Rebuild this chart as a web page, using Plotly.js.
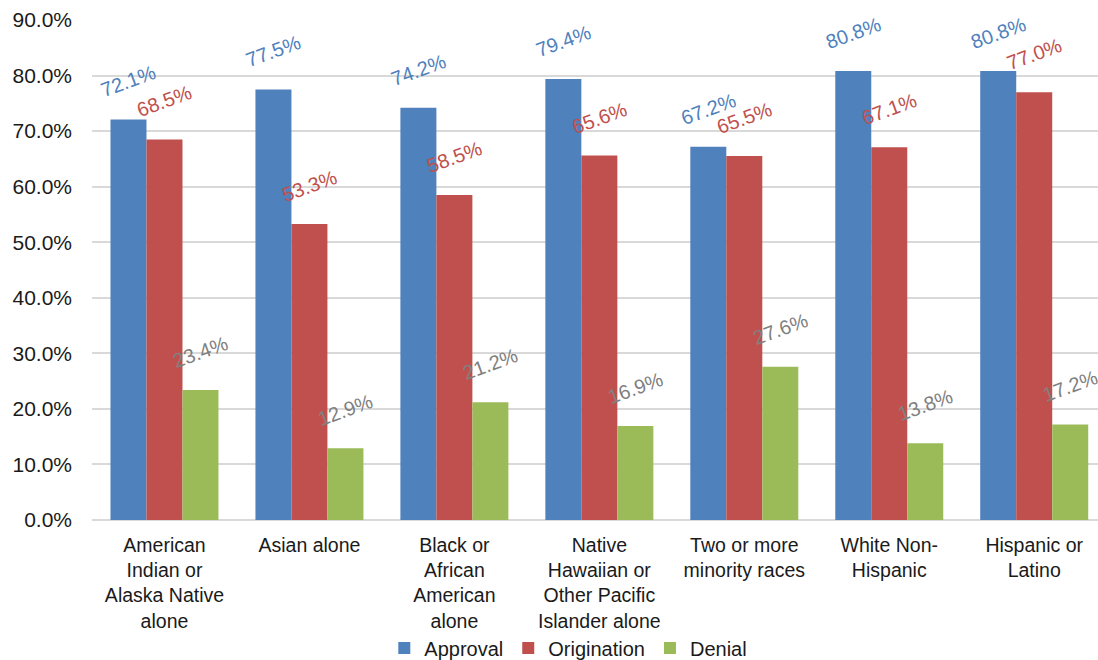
<!DOCTYPE html>
<html>
<head>
<meta charset="utf-8">
<script src="https://cdn.plot.ly/plotly-3.0.1.min.js"></script>
<style>html,body{margin:0;padding:0;background:#fff;}#chart{width:1098px;height:660px;}</style>
</head>
<body>
<div id="chart"></div>
<script>
const categories = [
  "American<br>Indian or<br>Alaska Native<br>alone",
  "Asian alone",
  "Black or<br>African<br>American<br>alone",
  "Native<br>Hawaiian or<br>Other Pacific<br>Islander alone",
  "Two or more<br>minority races",
  "White Non-<br>Hispanic",
  "Hispanic or<br>Latino"
];
const approval = [72.1, 77.5, 74.2, 79.4, 67.2, 80.8, 80.8];
const origination = [68.5, 53.3, 58.5, 65.6, 65.5, 67.1, 77.0];
const denial = [23.4, 12.9, 21.2, 16.9, 27.6, 13.8, 17.2];
const seriesNames = ["Approval", "Origination", "Denial"];
const yTicks = [0, 10, 20, 30, 40, 50, 60, 70, 80, 90];

const colors = ["#4F81BD", "#C0504D", "#9BBB59"];
const labelColors = ["#4F81BD", "#C0504D", "#808080"];
const FONT = "Liberation Sans, Arial, sans-serif";
const allSeries = [approval, origination, denial];

const traces = allSeries.map((vals, i) => ({
  type: "bar",
  name: seriesNames[i],
  x: categories,
  y: vals,
  marker: {color: colors[i], line: {width: 0}},
  hoverinfo: "skip"
}));

const annotations = [];
allSeries.forEach((vals, i) => {
  vals.forEach((v, j) => {
    annotations.push({
      x: categories[j], y: v, xref: "x", yref: "y",
      text: v.toFixed(1) + "%",
      showarrow: false,
      textangle: -20,
      xanchor: "center", yanchor: "middle",
      xshift: (i - 1) * 36,
      yshift: 38,
      font: {family: FONT, size: 20, color: labelColors[i]}
    });
  });
});

const layout = {
  width: 1098, height: 660,
  margin: {l: 92, r: 0, t: 20, b: 140, pad: 0},
  paper_bgcolor: "#fff", plot_bgcolor: "#fff",
  barmode: "group",
  bargap: 0.255,
  bargroupgap: 0,
  font: {family: FONT, size: 20, color: "#1a1a1a"},
  xaxis: {
    type: "category",
    range: [-0.5, 6.44],
    showgrid: false, zeroline: false, showline: false,
    ticks: "", tickfont: {family: FONT, size: 19.5, color: "#1a1a1a"},
    tickangle: 0,
    ticklabelstandoff: 11,
    fixedrange: true
  },
  yaxis: {
    range: [0, 90],
    tickvals: yTicks,
    ticktext: yTicks.map(t => t.toFixed(1) + "%"),
    showgrid: true, gridcolor: "#D9D9D9", gridwidth: 2,
    zeroline: true, zerolinecolor: "#D9D9D9", zerolinewidth: 2,
    showline: false, ticks: "",
    ticklabelstandoff: 19,
    tickfont: {family: FONT, size: 21, color: "#1a1a1a"},
    fixedrange: true
  },
  showlegend: true,
  legend: {
    orientation: "h",
    xref: "container", yref: "container",
    x: 0.35, xanchor: "left",
    y: 0.018, yanchor: "middle",
    bgcolor: "rgba(0,0,0,0)",
    font: {family: FONT, size: 20, color: "#1a1a1a"},
    itemwidth: 30,
    traceorder: "normal"
  },
  annotations: annotations
};

Plotly.newPlot("chart", traces, layout, {displayModeBar: false, staticPlot: true});
</script>
</body>
</html>
